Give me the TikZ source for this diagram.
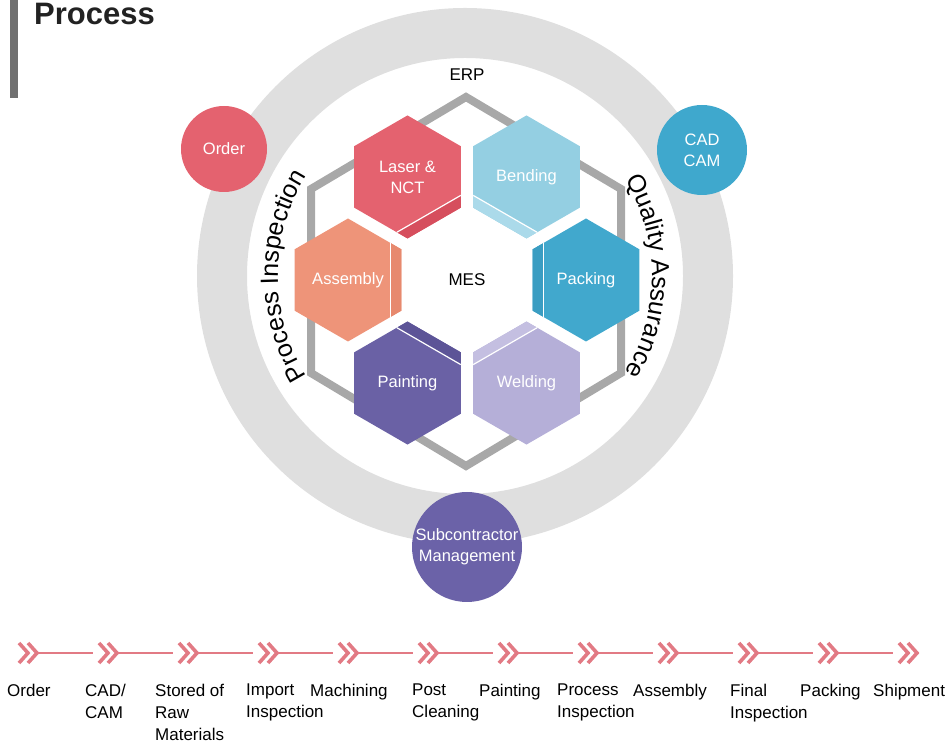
\documentclass[tikz,border=0pt]{standalone}
\usepackage{fontspec}
\setmainfont{Liberation Sans}
\usetikzlibrary{shapes.geometric,calc,decorations.text,positioning}

\definecolor{lasercol}{HTML}{E4626F}
\definecolor{laserdark}{HTML}{D64E5D}
\definecolor{bendcol}{HTML}{94CFE2}
\definecolor{bendlight}{HTML}{ABDAEA}
\definecolor{packcol}{HTML}{41A8CD}
\definecolor{packdark}{HTML}{3A9DC2}
\definecolor{weldcol}{HTML}{B5AFD8}
\definecolor{weldlight}{HTML}{C4BFE1}
\definecolor{paintcol}{HTML}{6A61A5}
\definecolor{paintdark}{HTML}{5C5497}
\definecolor{assemcol}{HTML}{EE9479}
\definecolor{assemdark}{HTML}{E7896E}
\definecolor{ordercol}{HTML}{E4626F}
\definecolor{cadcol}{HTML}{3FA8CD}
\definecolor{subcol}{HTML}{6B62A8}
\definecolor{ringgray}{HTML}{DFDFDF}
\definecolor{framegray}{HTML}{A8A8A8}
\definecolor{flowcol}{HTML}{E27A84}
\definecolor{bargray}{HTML}{707070}
\definecolor{titlecol}{HTML}{222222}

\tikzset{
  hexbox/.style={regular polygon, regular polygon sides=6, shape border rotate=30,
    minimum size=123pt, inner sep=1pt, text=white, align=center,
    font=\fontsize{16.5}{21}\selectfont},
  bubble/.style={circle, text=white, align=center, inner sep=0pt,
    font=\fontsize{16.5}{21}\selectfont},
  framehex/.style={draw=framegray, line width=8pt, line join=miter},
  chev/.style={minimum width=20pt, minimum height=24pt, inner sep=0pt},
  chevline/.style={draw=flowcol, line width=3.6pt, line join=miter},
  flow/.style={draw=flowcol, line width=2.5pt, shorten >=5pt},
  steplabel/.style={anchor=north west, inner sep=0pt, align=left,
    font=\fontsize{17}{22}\selectfont},
  ringtext/.style={decorate, decoration={text along path, text align=center,
    text={|\fontsize{25}{30}\selectfont|#1}}}
}

\newcommand\hexr{61.5}
\newcommand\hexstrip[3]{%
  \begin{scope}[shift={(#1.center)}]
    \fill[#3] ($(#2+150:\hexr)!0.2!(#2+90:\hexr)$) -- (#2+150:\hexr)
      -- (#2+210:\hexr) -- ($(#2+210:\hexr)!0.2!(#2+270:\hexr)$) -- cycle;
    \draw[white, line width=1.2pt] ($(#2+150:\hexr)!0.2!(#2+90:\hexr)$)
      -- ($(#2+210:\hexr)!0.2!(#2+270:\hexr)$);
  \end{scope}}

\begin{document}
\begin{tikzpicture}[x=1pt,y=1pt]
\useasboundingbox (0,0) rectangle (950,744);
\fill[bargray] (10,646) rectangle (18,744);
\node[anchor=base west, inner sep=0pt, text=titlecol,
  font=\fontsize{31}{36}\selectfont\bfseries] (title) at (34,719) {Process};

\coordinate (ringc) at (465,468);
\draw[ringgray, line width=50pt] (ringc) circle[radius=243];
\node[bubble, fill=ordercol, minimum size=86pt] (order) at (224,595) {Order};
\node[bubble, fill=cadcol, minimum size=90pt] (cadcam) at (702,594) {CAD\\CAM};
\node[bubble, fill=subcol, minimum size=110pt] (subcon) at (467,197) {Subcontractor\\Management};

\path[ringtext={Process Inspection}] ($(ringc)+(240:187)$) arc[start angle=240, end angle=120, radius=187];
\path[ringtext={Quality Assurance}] ($(ringc)+(60:187)$) arc[start angle=60, end angle=-60, radius=187];
\node[font=\fontsize{17}{20}\selectfont] (erp) at (467,669) {ERP};

\draw[framehex] (466,647) -- (621,555) -- (621,371) -- (466,278) -- (311,371) -- (311,555) -- cycle;

\node[font=\fontsize{17}{20}\selectfont] (mes) at (467,464) {MES};
\node[hexbox, fill=lasercol] (laser) at ($(mes)+(120:119)$) {Laser \&\\NCT};
\node[hexbox, fill=bendcol] (bend) at ($(mes)+(60:119)$) {Bending};
\node[hexbox, fill=packcol] (pack) at ($(mes)+(0:119)$) {Packing};
\node[hexbox, fill=weldcol] (weld) at ($(mes)+(-60:119)$) {Welding};
\node[hexbox, fill=paintcol] (paint) at ($(mes)+(-120:119)$) {Painting};
\node[hexbox, fill=assemcol] (assem) at ($(mes)+(180:119)$) {Assembly};
\hexstrip{laser}{120}{laserdark}
\hexstrip{bend}{60}{bendlight}
\hexstrip{pack}{0}{packdark}
\hexstrip{weld}{-60}{weldlight}
\hexstrip{paint}{-120}{paintdark}
\hexstrip{assem}{180}{assemdark}

\foreach \i in {1,...,12}
  \node[chev] (chev\i) at ({28+80*(\i-1)},91) {};
\foreach \i in {1,...,12}
  \draw[chevline] ([xshift=-9pt,yshift=10pt]chev\i.center) -- ++(9pt,-10pt) -- ++(-9pt,-10pt)
    ([xshift=0pt,yshift=10pt]chev\i.center) -- ++(9pt,-10pt) -- ++(-9pt,-10pt);
\foreach \i [evaluate=\i as \j using int(\i+1)] in {1,...,11}
  \draw[flow] (chev\i.east) -- (chev\j.west);

\node[steplabel] (s1) at (7,60) {Order};
\node[steplabel] (s2) at (85,60) {CAD/\\CAM};
\node[steplabel] (s3) at (155,60) {Stored of\\Raw\\Materials};
\node[steplabel] (s4) at (246,60) {Import\\Inspection};
\node[steplabel] (s5) at (310,60) {Machining};
\node[steplabel] (s6) at (412,60) {Post\\Cleaning};
\node[steplabel] (s7) at (479,60) {Painting};
\node[steplabel] (s8) at (557,60) {Process\\Inspection};
\node[steplabel] (s9) at (633,60) {Assembly};
\node[steplabel] (s10) at (730,60) {Final\\Inspection};
\node[steplabel] (s11) at (800,60) {Packing};
\node[steplabel] (s12) at (873,60) {Shipment};
\end{tikzpicture}
\end{document}
